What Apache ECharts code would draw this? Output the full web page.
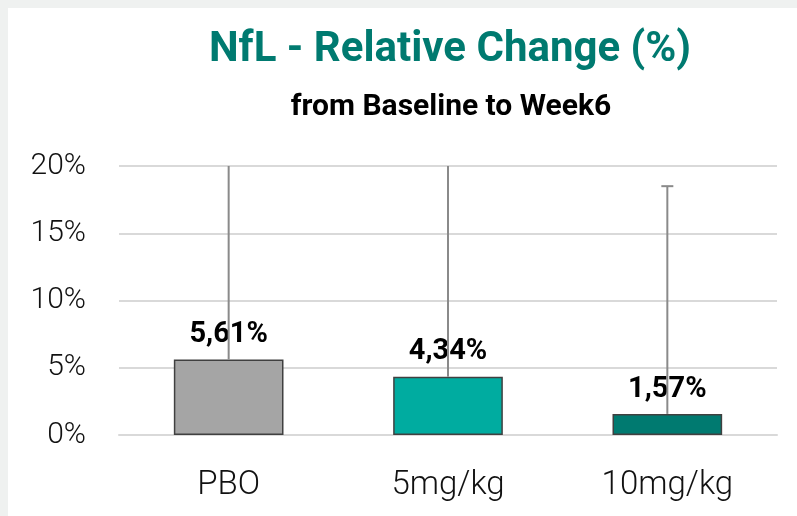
<!DOCTYPE html>
<html><head><meta charset="utf-8">
<script src="https://cdn.jsdelivr.net/npm/echarts@6/dist/echarts.min.js"></script>
<style>html,body{margin:0;padding:0;background:#eff1f0}#c{width:797px;height:516px}</style>
</head><body><div id="c"></div>
<script>
var categories = ['PBO', '5mg/kg', '10mg/kg'];
var values = [5.61, 4.34, 1.57];
var upper = [25, 25, 18.5];
var colors = ['#a5a5a5', '#00aca0', '#007a70'];
var yTicks = [0, 5, 10, 15, 20];
var titleText = 'NfL - Relative Change (%)';
var subtitleText = 'from Baseline to Week6';

var chart = echarts.init(document.getElementById('c'));
var fam = 'Roboto';
chart.setOption({
  backgroundColor: '#eff1f0',
  animation: false,
  graphic: [{type: 'rect', left: 8, top: 8, shape: {width: 789, height: 508}, style: {fill: '#ffffff'}, z: -10}],
  title: [{
    text: titleText, left: 445, top: 24, textAlign: 'center',
    textStyle: {color: '#007a70', fontSize: 42, fontWeight: 'bold', fontFamily: fam}
  }, {
    text: subtitleText, left: 446, top: 87, textAlign: 'center',
    textStyle: {color: '#000', fontSize: 30, fontWeight: 'bold', fontFamily: fam}
  }],
  grid: {left: 119, right: 20, top: 166, bottom: 81},
  xAxis: {
    type: 'category', data: categories,
    axisLine: {show: true, lineStyle: {color: '#d9d9d9', width: 2}},
    axisTick: {show: false},
    axisLabel: {fontSize: 33, color: '#111', fontFamily: fam, fontWeight: 300, margin: 34}
  },
  yAxis: {
    type: 'value', min: 0, max: 20, interval: 5,
    axisLine: {show: false}, axisTick: {show: false},
    splitLine: {lineStyle: {color: '#d9d9d9', width: 2}},
    axisLabel: {fontSize: 30, color: '#111', fontFamily: fam, fontWeight: 300, margin: 33,
      formatter: function (v) { return v + '%'; }}
  },
  series: [{
    type: 'bar', barWidth: '50%',
    data: values.map(function (v, i) {
      return {value: v, itemStyle: {color: colors[i]}};
    }),
    itemStyle: {borderColor: '#404040', borderWidth: 1.5},
    label: {show: true, position: 'top', distance: 10, color: '#000', fontSize: 29,
      fontWeight: 'bold', fontFamily: fam,
      formatter: function (p) { return p.value.toFixed(2).replace('.', ',') + '%'; }},
    z: 2
  }, {
    type: 'custom', clip: true, z: 3,
    data: values.map(function (v, i) { return [i, v, upper[i]]; }),
    renderItem: function (params, api) {
      var lo = api.coord([api.value(0), api.value(1)]);
      var hi = api.coord([api.value(0), api.value(2)]);
      var c = {stroke: '#8a8a8a', lineWidth: 2};
      return {type: 'group', children: [
        {type: 'line', shape: {x1: lo[0], y1: lo[1], x2: hi[0], y2: hi[1]}, style: c},
        {type: 'line', shape: {x1: hi[0] - 6, y1: hi[1], x2: hi[0] + 6, y2: hi[1]}, style: c}
      ]};
    }
  }]
});
</script></body></html>
